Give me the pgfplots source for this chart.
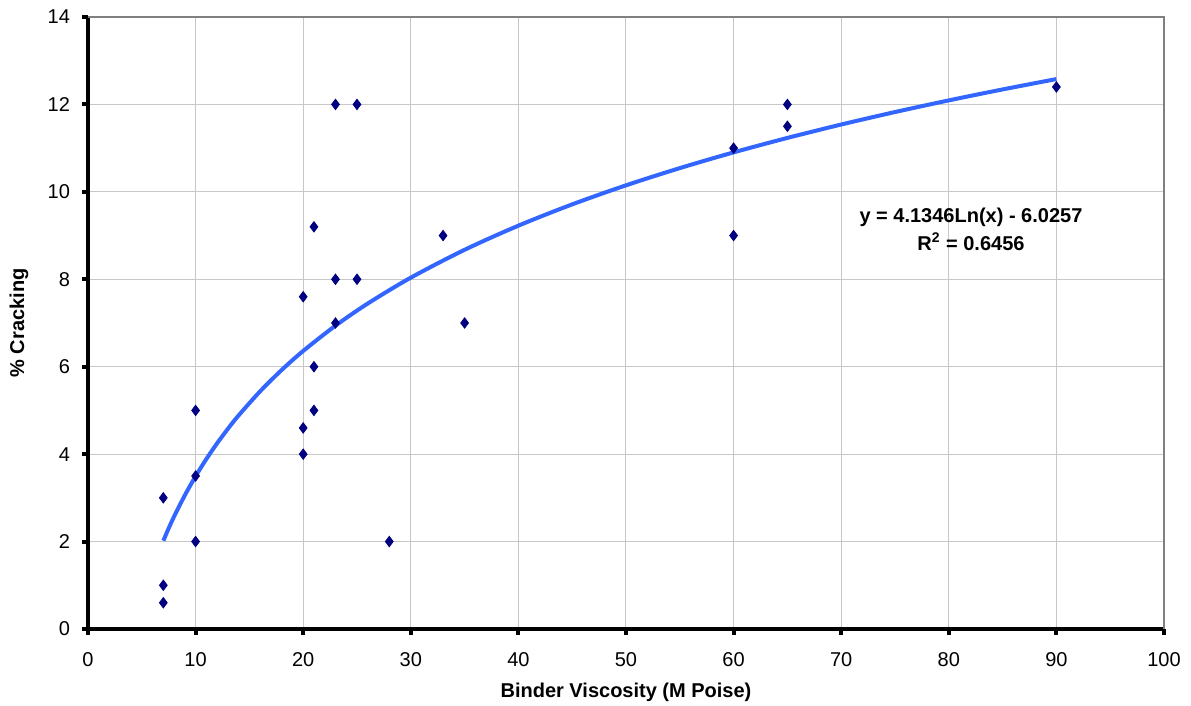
\documentclass[border=0pt]{standalone}
\usepackage{pgfplots}
\pgfplotsset{compat=1.18}
\usepackage{fontspec}
\setmainfont{Liberation Sans}
\definecolor{navyc}{RGB}{0,0,128}
\definecolor{trendc}{RGB}{51,102,255}
\begin{document}
\begin{tikzpicture}
\path[use as bounding box] (-44pt,-38.5pt) rectangle (551.5pt,314.5pt);
\begin{axis}[
  scale only axis, width=538pt, height=306pt,
  xmin=0, xmax=100, ymin=0, ymax=14,
  xtick={0,10,...,100}, ytick={0,2,...,14},
  axis x line*=bottom, axis y line*=left,
  axis line style={line width=2pt, black, -},
  tick align=outside, major tick length=3pt,
  tick style={line width=2pt, black},
  grid=major, major grid style={line width=0.5pt, color=black!22},
  ticklabel style={font=\fontsize{10}{12}\selectfont},
  /pgf/number format/assume math mode=true,
  yticklabel style={xshift=-2.5pt},
  xticklabel style={yshift=-5pt},
  clip=false,
]
\draw[color=black!50, line width=0.6pt] (rel axis cs:0,1) -- (rel axis cs:1,1) -- (rel axis cs:1,0);
\addplot[only marks, mark=diamond*, mark size=2.6pt, color=navyc, mark options={fill=navyc, draw=navyc, line width=0.4pt}] coordinates {
 (7,3) (7,1) (7,0.6)
 (10,5) (10,3.5) (10,2)
 (20,7.6) (20,4.6) (20,4)
 (21,9.2) (21,6) (21,5)
 (23,12) (23,8) (23,7)
 (25,12) (25,8)
 (28,2) (33,9) (35,7)
 (60,11) (60,9)
 (65,12) (65,11.5)
 (90,12.4)
};
\addplot[color=trendc, line width=2pt, smooth, no marks] coordinates {
 (7,2.0199) (7.5,2.3051) (8,2.5720) (9,3.0590) (10,3.4946) (11,3.8886) (12,4.2484) (13,4.5793)
 (14,4.8858) (16,5.4379) (18,5.9249) (20,6.3605) (23,6.9384) (26,7.4453) (30,8.0370)
 (35,8.6742) (40,9.2263) (45,9.7133) (50,10.1490) (55,10.5430) (60,10.9028) (65,11.2337)
 (70,11.5401) (75,11.8254) (80,12.0922) (85,12.3429) (90,12.5792)
};
\node[font=\bfseries\fontsize{10}{14}\selectfont, align=center] at (axis cs:82.06,9.15) {y = 4.1346Ln(x) - 6.0257\\R\textsuperscript{2} = 0.6456};
\end{axis}
\node[font=\bfseries\fontsize{10}{12}\selectfont] at (269pt,-31.5pt) {Binder Viscosity (M Poise)};
\node[font=\bfseries\fontsize{10}{12}\selectfont, rotate=90] at (-34.5pt,153pt) {\% Cracking};
\end{tikzpicture}
\end{document}
